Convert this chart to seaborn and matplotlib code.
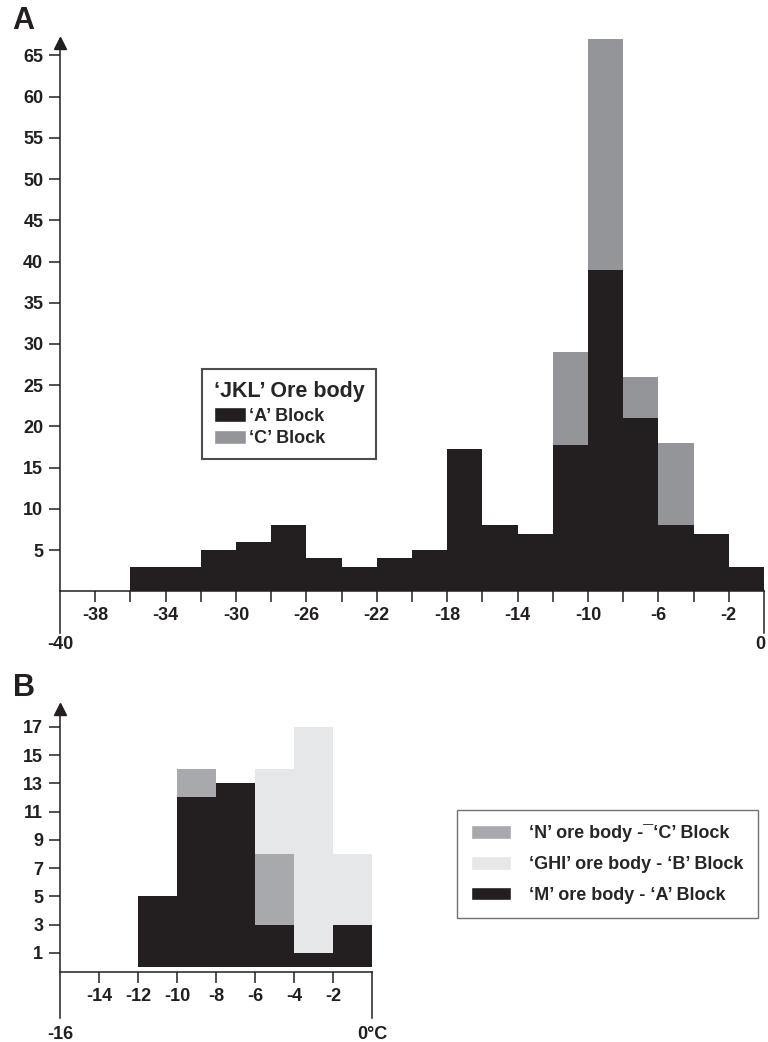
import numpy as np
import pandas as pd
import matplotlib
matplotlib.use("Agg")
import matplotlib.pyplot as plt
import seaborn as sns
from matplotlib.patches import Patch

# ---------------- data ----------------
# Panel A: 'JKL' ore body, bins of 2 degC
bin_edges_A = [-36, -34, -32, -30, -28, -26, -24, -22, -20, -18, -16, -14, -12, -10, -8, -6, -4, -2, 0]
a_block = [3, 3, 5, 6, 8, 4, 3, 4, 5, 17.3, 8, 7, 17.7, 39, 21, 8, 7, 3]
c_block = [0, 0, 0, 0, 0, 0, 0, 0, 0, 0, 0, 0, 11.3, 28, 5, 10, 0, 0]
yticks_A = [5, 10, 15, 20, 25, 30, 35, 40, 45, 50, 55, 60, 65]
xticks_A = [-38, -36, -34, -32, -30, -28, -26, -24, -22, -20, -18, -16, -14, -12, -10, -8, -6, -4, -2]
xlabels_A = [-38, -34, -30, -26, -22, -18, -14, -10, -6, -2]

# Panel B
bin_edges_B = [-12, -10, -8, -6, -4, -2, 0]
m_body = [5, 12, 13, 3, 1, 3]
n_body = [0, 2, 0, 5, 0, 0]
ghi_body = [0, 0, 0, 6, 16, 5]
yticks_B = [1, 3, 5, 7, 9, 11, 13, 15, 17]
xticks_B = [-14, -12, -10, -8, -6, -4, -2]

BLACK = "#231f20"
GRAY = "#939598"
MID = "#a7a9ac"
LIGHT = "#e6e7e8"

sns.set_style("ticks")
plt.rcParams["font.family"] = ["Liberation Sans", "DejaVu Sans"]
plt.rcParams["font.weight"] = "bold"

W, H = 768, 1042
fig = plt.figure(figsize=(W / 100, H / 100), dpi=100)


def px_axes(l, r, t, b):
    return fig.add_axes([l / W, 1 - b / H, (r - l) / W, (b - t) / H])


def style_axis(ax, xlim, ylim, base):
    ax.set_xlim(*xlim)
    ax.set_ylim(*ylim)
    ax.set_xlabel("")
    ax.set_ylabel("")
    ax.spines["top"].set_visible(False)
    for s in ("left", "bottom", "right"):
        ax.spines[s].set_color(BLACK)
        ax.spines[s].set_linewidth(1.1)
        ax.spines[s].set_visible(True)
    ax.spines["bottom"].set_position(("data", base))
    ax.spines["right"].set_bounds(ylim[0], base)
    ax.tick_params(axis="both", which="major", direction="out", length=8, width=1.1,
                   color=BLACK, labelsize=13, labelcolor=BLACK,
                   left=True, bottom=True, right=False, top=False)
    ax.tick_params(axis="x", pad=3.5)
    ax.tick_params(axis="y", pad=4)
    ax.grid(False)
    ax.patch.set_alpha(0)
    # arrow head at the top of the y axis
    ax.plot([0], [1.0 - 0.006], marker="^", markersize=8, color=BLACK,
            transform=ax.transAxes, clip_on=False)


# ---------------- Panel A ----------------
axA = px_axes(60, 764, 39, 632.5)
centers_A = [(bin_edges_A[i] + bin_edges_A[i + 1]) / 2 for i in range(len(a_block))]
dfA = pd.DataFrame({
    "temp": centers_A + centers_A,
    "count": a_block + c_block,
    "block": ["'A' Block"] * len(a_block) + ["'C' Block"] * len(c_block),
})
sns.histplot(data=dfA, x="temp", weights="count", hue="block",
             hue_order=["'C' Block", "'A' Block"], bins=bin_edges_A,
             multiple="stack", palette={"'A' Block": BLACK, "'C' Block": GRAY},
             alpha=1, linewidth=0, legend=False, ax=axA)
style_axis(axA, (-40, 0), (-5, 67), 0)
axA.set_yticks(yticks_A)
axA.set_yticklabels([str(v) for v in yticks_A], fontweight="bold")
axA.set_xticks(xticks_A)
axA.set_xticklabels([str(v) if v in xlabels_A else "" for v in xticks_A], fontweight="bold")
axA.text(-40, -6.4, "-40", ha="center", va="center", fontsize=13, fontweight="bold",
         color=BLACK, clip_on=False)
axA.text(-0.2, -6.4, "0", ha="center", va="center", fontsize=13, fontweight="bold",
         color=BLACK, clip_on=False)

legA = fig.legend(handles=[Patch(facecolor=BLACK, label="\u2018A\u2019 Block"),
                           Patch(facecolor=GRAY, label="\u2018C\u2019 Block")],
                  title="\u2018JKL\u2019 Ore body", loc="upper left",
                  bbox_to_anchor=(202 / W, 1 - 369 / H), frameon=True,
                  fancybox=False, prop={"size": 13, "weight": "bold"},
                  title_fontproperties={"size": 15.5, "weight": "bold"},
                  handlelength=1.8, handleheight=0.85, handletextpad=0.15,
                  labelspacing=0.3, borderpad=0.65, borderaxespad=0,
                  alignment="left")
legA.get_frame().set_edgecolor(BLACK)
legA.get_frame().set_linewidth(1.5)

fig.text(12 / W, 1 - 21 / H, "A", fontsize=22, fontweight="bold", color=BLACK,
         ha="left", va="center")

# ---------------- Panel B ----------------
axB = px_axes(60, 372, 707, 1018)
centers_B = [(bin_edges_B[i] + bin_edges_B[i + 1]) / 2 for i in range(len(m_body))]
dfB = pd.DataFrame({
    "temp": centers_B * 3,
    "count": m_body + n_body + ghi_body,
    "body": ["M"] * len(m_body) + ["N"] * len(n_body) + ["GHI"] * len(ghi_body),
})
sns.histplot(data=dfB, x="temp", weights="count", hue="body",
             hue_order=["GHI", "N", "M"], bins=bin_edges_B,
             multiple="stack", palette={"M": BLACK, "N": MID, "GHI": LIGHT},
             alpha=1, linewidth=0, legend=False, ax=axB)
style_axis(axB, (-16, 0), (-3.6, 18.4), -0.33)
axB.set_yticks(yticks_B)
axB.set_yticklabels([str(v) for v in yticks_B], fontweight="bold")
axB.set_xticks(xticks_B)
axB.set_xticklabels([str(v) for v in xticks_B], fontweight="bold")
axB.text(-16, -4.8, "-16", ha="center", va="center", fontsize=13, fontweight="bold",
         color=BLACK, clip_on=False)
axB.text(0, -4.8, "0\u00b0C", ha="center", va="center", fontsize=13, fontweight="bold",
         color=BLACK, clip_on=False)

legB = fig.legend(handles=[Patch(facecolor=MID, label="\u2018N\u2019 ore body -\u00af\u2018C\u2019 Block"),
                           Patch(facecolor=LIGHT, label="\u2018GHI\u2019 ore body - \u2018B\u2019 Block"),
                           Patch(facecolor=BLACK, label="\u2018M\u2019 ore body - \u2018A\u2019 Block")],
                  loc="upper left", bbox_to_anchor=(457 / W, 1 - 810 / H), frameon=True,
                  fancybox=False, prop={"size": 13, "weight": "bold"},
                  handlelength=2.2, handleheight=0.8, handletextpad=1.0,
                  labelspacing=0.75, borderpad=0.8, borderaxespad=0)
legB.get_frame().set_edgecolor("#4d4d4f")
legB.get_frame().set_linewidth(1.0)

fig.text(13 / W, 1 - 688 / H, "B", fontsize=22, fontweight="bold", color=BLACK,
         ha="left", va="center")

fig.savefig("out.png", dpi=100)
